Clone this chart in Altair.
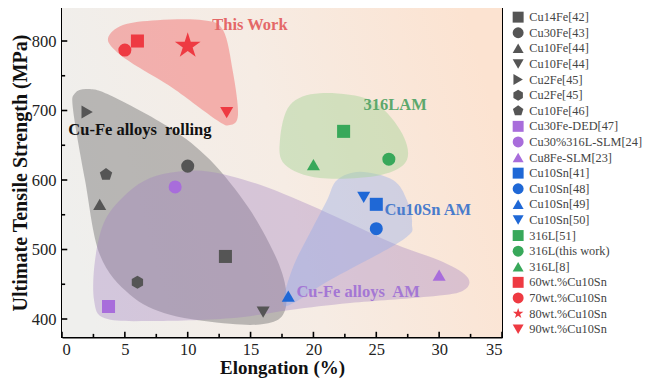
import altair as alt
import pandas as pd

FONT = "Liberation Serif"

# ---------------- data ----------------
names = ["Cu14Fe[42]", "Cu30Fe[43]", "Cu10Fe[44]", "Cu10Fe[44] ", "Cu2Fe[45]", "Cu2Fe[45] ",
         "Cu10Fe[46]", "Cu30Fe-DED[47]", "Cu30%316L-SLM[24]", "Cu8Fe-SLM[23]",
         "Cu10Sn[41]", "Cu10Sn[48]", "Cu10Sn[49]", "Cu10Sn[50]",
         "316L[51]", "316L(this work)", "316L[8]",
         "60wt.%Cu10Sn", "70wt.%Cu10Sn", "80wt.%Cu10Sn", "90wt.%Cu10Sn"]
elong = [13.0, 10.0, 3.0, 16.0, 2.0, 6.0, 3.5, 3.7, 9.0, 30.0,
         25.0, 25.0, 18.0, 24.0, 22.4, 26.0, 20.0, 6.0, 5.0, 10.0, 13.1]
uts = [490, 620, 565, 410, 698, 453, 608, 418, 590, 463,
       565, 530, 433, 575, 670, 630, 622, 800, 787, 793, 697]

GREY, PURPLE, BLUE, GREEN, RED = "#555555", "#a86ddb", "#1f68d6", "#38a85a", "#ee3a42"
colors = [GREY] * 7 + [PURPLE] * 3 + [BLUE] * 4 + [GREEN] * 3 + [RED] * 4

HEX = "M0,-1L0.866,-0.5L0.866,0.5L0,1L-0.866,0.5L-0.866,-0.5Z"
PENT = "M0,-1L0.951,-0.309L0.588,0.809L-0.588,0.809L-0.951,-0.309Z"
STAR = ("M0,-1L0.2245,-0.309L0.951,-0.309L0.3633,0.118L0.5878,0.809L0,0.382"
        "L-0.5878,0.809L-0.3633,0.118L-0.951,-0.309L-0.2245,-0.309Z")
shapes = ["square", "circle", "triangle-up", "triangle-down", "triangle-right", HEX, PENT,
          "square", "circle", "triangle-up",
          "square", "circle", "triangle-up", "triangle-down",
          "square", "circle", "triangle-up",
          "square", "circle", STAR, "triangle-down"]

# region outlines (data coordinates)
red_x = [3.66, 4.85, 7.56, 11.22, 12.81, 13.6, 14.0, 13.36, 12.33, 8.83, 6.2, 4.38]
red_y = [804, 823, 830, 830, 816, 755, 694, 679, 686, 732, 761, 784]
grey_x = [1.03, 2.07, 3.82, 8.59, 11.77, 14.8, 16.94, 17.82, 17.58, 16.15, 13.36, 8.59, 5.41, 3.02, 1.83, 0.88]
grey_y = [725, 731, 722, 675, 629, 561, 492, 442, 406, 393, 393, 406, 435, 492, 600, 701]
purple_x = [3.42, 5.17, 7.0, 9.15, 11.77, 15.75, 21.08, 26.33, 30.31, 32.3, 31.82, 29.04,
            22.91, 18.14, 13.36, 7.0, 3.42, 2.55, 2.63]
purple_y = [542, 581, 603, 612, 612, 593, 553, 509, 482, 459, 440, 432,
            423, 413, 401, 397, 401, 427, 485]
green_x = [17.34, 18.14, 20.52, 24.5, 26.89, 27.44, 25.3, 20.52, 17.74]
green_y = [658, 708, 725, 715, 672, 629, 607, 603, 622]
blue_x = [23.71, 26.33, 27.44, 27.84, 27.13, 21.32, 18.53, 17.58, 18.38, 19.73, 21.08, 21.88]
blue_y = [612, 600, 571, 538, 514, 456, 424, 423, 475, 524, 571, 600]

# annotations
ann_text = ["This Work", "Cu-Fe alloys\u00a0 rolling", "316LAM", "Cu10Sn AM", "Cu-Fe alloys\u00a0 AM"]
ann_x = [14.95, 6.2, 26.5, 29.1, 23.55]
ann_y = [823, 672, 708, 557, 439]
ann_color = ["#e46868", "#111111", "#5ca86c", "#4a7ccc", "#a477d4"]

# axes
X_DOMAIN = [0, 35]
Y_DOMAIN = [374.1, 847.5]
x_ticks = [0, 5, 10, 15, 20, 25, 30, 35]
y_ticks = [400, 500, 600, 700, 800]
x_minor = [2.5, 7.5, 12.5, 17.5, 22.5, 27.5, 32.5]
y_minor = [450, 550, 650, 750]

# ---------------- chart ----------------
X = alt.X("x:Q", scale=alt.Scale(domain=X_DOMAIN, nice=False, zero=False),
          axis=alt.Axis(values=x_ticks, title="Elongation (%)", grid=False, ticks=False,
                        labelPadding=4, titlePadding=1, titleFontSize=19, format="d"))
Y = alt.Y("y:Q", scale=alt.Scale(domain=Y_DOMAIN, nice=False, zero=False),
          axis=alt.Axis(values=y_ticks, title="Ultimate Tensile Strength (MPa)", grid=False,
                        ticks=False, labelPadding=6, titlePadding=1, format="d"))

bg_df = pd.DataFrame({"x": [X_DOMAIN[0]], "x2": [X_DOMAIN[1]], "y": [Y_DOMAIN[0]], "y2": [Y_DOMAIN[1]]})
bg = alt.Chart(bg_df).mark_rect(
    fill=alt.Gradient(gradient="linear", x1=0, y1=0.6, x2=1, y2=0.4,
                      stops=[alt.GradientStop(color="#efefed", offset=0),
                             alt.GradientStop(color="#f6ece4", offset=0.5),
                             alt.GradientStop(color="#fce3d1", offset=1)])
).encode(x=X, x2="x2:Q", y=Y, y2="y2:Q")


def hull(xs, ys, fill, op):
    df = pd.DataFrame({"x": xs, "y": ys, "i": list(range(len(xs)))})
    return alt.Chart(df).mark_line(fill=fill, fillOpacity=op, strokeOpacity=0,
                                   interpolate="cardinal-closed").encode(
        x=X, y=Y, order=alt.Order("i:Q"))


hulls = [
    hull(grey_x, grey_y, "#777777", 0.47),
    hull(purple_x, purple_y, "#a080c0", 0.36),
    hull(blue_x, blue_y, "#8fa8ea", 0.38),
    hull(green_x, green_y, "#a8d49a", 0.47),
    hull(red_x, red_y, "#f05a5a", 0.42),
]

pts = pd.DataFrame({"x": elong, "y": uts, "name": names})
color_enc = alt.Color("name:N", scale=alt.Scale(domain=names, range=colors), legend=alt.Legend(title=None))
shape_enc = alt.Shape("name:N", scale=alt.Scale(domain=names, range=shapes), legend=alt.Legend(title=None))

points = alt.Chart(pts[pts["name"] != "80wt.%Cu10Sn"]).mark_point(
    filled=True, size=170, opacity=1).encode(x=X, y=Y, color=color_enc, shape=shape_enc)
star = alt.Chart(pts[pts["name"] == "80wt.%Cu10Sn"]).mark_point(
    filled=True, size=730, opacity=1).encode(x=X, y=Y, color=color_enc, shape=shape_enc)

texts = []
for t, tx, ty, tc in zip(ann_text, ann_x, ann_y, ann_color):
    df = pd.DataFrame({"x": [tx], "y": [ty], "t": [t]})
    texts.append(alt.Chart(df).mark_text(font=FONT, fontSize=16.5, fontWeight="bold", color=tc,
                                         align="center", baseline="middle").encode(x=X, y=Y, text="t:N"))

# inward ticks
ymin = Y_DOMAIN[0]
xt = pd.DataFrame({"x": x_ticks + x_minor,
                   "y": [ymin] * (len(x_ticks) + len(x_minor)),
                   "y2": [ymin + 7.5] * len(x_ticks) + [ymin + 4.5] * len(x_minor)})
yt = pd.DataFrame({"y": y_ticks + y_minor,
                   "x": [0.0] * (len(y_ticks) + len(y_minor)),
                   "x2": [0.42] * len(y_ticks) + [0.25] * len(y_minor)})
xtick = alt.Chart(xt).mark_rule(color="black", strokeWidth=1.6).encode(x=X, y=Y, y2="y2:Q")
ytick = alt.Chart(yt).mark_rule(color="black", strokeWidth=1.6).encode(x=X, x2="x2:Q", y=Y)

chart = alt.layer(bg, *hulls, points, star, *texts, xtick, ytick).properties(
    width=440, height=329,
    padding={"left": 54, "top": 0, "right": 140, "bottom": 41},
    autosize=alt.AutoSizeParams(type="none"),
).configure_view(stroke="black", strokeWidth=2).configure_axis(
    labelFont=FONT, titleFont=FONT, labelFontSize=16.5, titleFontSize=20,
    titleFontWeight="bold", labelColor="#222222", titleColor="#111111",
    domainColor="black", domainWidth=2,
).configure_legend(
    orient="right", offset=7, padding=3, labelFont=FONT, labelFontSize=12.3,
    labelColor="#444444", symbolSize=120, rowPadding=2.6, labelOffset=5,
    symbolStrokeWidth=0, labelLimit=200,
)

chart.save("out.html", embed_options={"renderer": "svg", "actions": False})
